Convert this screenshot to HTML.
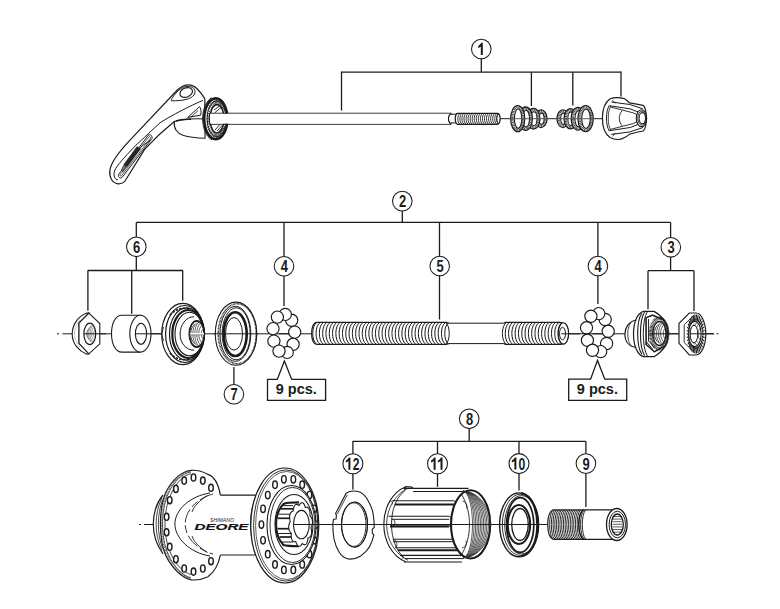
<!DOCTYPE html>
<html><head><meta charset="utf-8"><style>
html,body{margin:0;padding:0;background:#fff;width:780px;height:609px;overflow:hidden}
svg{display:block;font-family:"Liberation Sans",sans-serif}
</style></head><body>
<svg width="780" height="609" viewBox="0 0 780 609">
<rect width="780" height="609" fill="#fff"/>
<line x1="341.5" y1="72.2" x2="621" y2="72.2" stroke="#1b1b1b" stroke-width="1.3"/>
<line x1="481.3" y1="59" x2="481.3" y2="72.2" stroke="#1b1b1b" stroke-width="1.3"/>
<line x1="341.5" y1="71.6" x2="341.5" y2="110.6" stroke="#1b1b1b" stroke-width="1.3"/>
<line x1="531.4" y1="72.2" x2="531.4" y2="106" stroke="#1b1b1b" stroke-width="1.3"/>
<line x1="572.8" y1="72.2" x2="572.8" y2="105.5" stroke="#1b1b1b" stroke-width="1.3"/>
<line x1="621" y1="71.6" x2="621" y2="96.5" stroke="#1b1b1b" stroke-width="1.3"/>
<ellipse cx="481.3" cy="49" rx="9.8" ry="9.8" fill="#fff" stroke="#1b1b1b" stroke-width="1.05" />
<path d="M480.8,55 V46.4 C480,47.1 479,47.6 478.2,47.9 V45.9 C479.5,45.3 480.6,44.1 481.2,42.8 H482.8 V55 Z" fill="#1b1b1b"/>
<line x1="499" y1="118.7" x2="606" y2="118.7" stroke="#1b1b1b" stroke-width="1.0"/>
<path d="M204.8,98.7 C201,93 198,88 193,85.9 C189,84 183,85 177.3,90 L130,140.2 C118,153 111,163 109.9,170 C109,177 112,183 118,183.8 C121,184 123.5,183 125,181 L144.8,149.1 C155,138 165,129 174.3,121.5 L205,119 Z" fill="#fff" stroke="#1b1b1b" stroke-width="1.2" />
<path d="M203,100.3 C190,106 172,115 160,122.8 L134,147.1 C124,158 117,165 114.5,171 C113,176 115,179.5 118,180" fill="none" stroke="#1b1b1b" stroke-width="1.0" />
<path d="M171.4,99.5 C174,95 179,88 186,86.6 C193,85.5 197,90 194,95 C191,99 183,101 171.4,100.8 Z" fill="#fff" stroke="#1b1b1b" stroke-width="1.0" />
<ellipse cx="186.2" cy="92.5" rx="6.5" ry="4.6" fill="#fff" stroke="#1b1b1b" stroke-width="1.2" transform="rotate(-22 186.2 92.5)"/>
<path d="M148.2,135.4 C149.6,133.8 152.6,135.2 152,138.4 L122.4,177 C121,179 117.6,178 118.6,174.4 Z" fill="#fff" stroke="#1b1b1b" stroke-width="1.0" />
<path d="M148.8,137 C149.6,136 150.8,136.6 150.6,138.2 L121.6,175.6 C120.8,176.6 119.6,176 120,174.8 Z" fill="none" stroke="#1b1b1b" stroke-width="0.7" />
<path d="M139.5,147.8 L150.5,140" fill="none" stroke="#1b1b1b" stroke-width="0.9" />
<path d="M137,146.6 L140.6,148.8 L127.2,166.8 L123.8,164.6 Z" fill="#262626" stroke="#1b1b1b" stroke-width="0.5" />
<path d="M123.8,165 L126.8,167 L123.2,171.8 L121.2,170.2 Z" fill="#6a6a6a" stroke="#1b1b1b" stroke-width="0.5" />
<path d="M174.3,121.5 C173.5,128 177,133.5 183.5,135.5 C190,137.6 197,138 205,138.2 L205,119 C195,118.5 185,118.5 174.3,121.5 Z" fill="#fff" stroke="#1b1b1b" stroke-width="1.1" />
<path d="M176,121 C181,119.2 186,119 191,119.3" fill="none" stroke="#1b1b1b" stroke-width="1.6" />
<path d="M187.7,117.4 L199.5,106.7 C201,108 201.5,112 200.6,115.2 Z" fill="#fff" stroke="#1b1b1b" stroke-width="1.0" />
<path d="M190.5,117.5 L198,110.5" fill="none" stroke="#1b1b1b" stroke-width="0.8" />
<path d="M212,97.8 C206,100 202.6,110 202.6,118.6 C202.6,128 206,137 212,139.8" fill="none" stroke="#1b1b1b" stroke-width="0.9" />
<ellipse cx="215.8" cy="118.8" rx="11.6" ry="20.4" fill="#fff" stroke="#1b1b1b" stroke-width="2.6" />
<ellipse cx="216.6" cy="118.8" rx="9.5" ry="18" fill="none" stroke="#1b1b1b" stroke-width="1.0" />
<ellipse cx="217" cy="118.8" rx="7.1" ry="14.2" fill="none" stroke="#1b1b1b" stroke-width="1.6" />
<line x1="224.4" y1="118.8" x2="226.6" y2="118.8" stroke="#1b1b1b" stroke-width="0.8"/>
<line x1="224.31" y1="121.18" x2="226.47" y2="121.8" stroke="#1b1b1b" stroke-width="0.8"/>
<line x1="224.03" y1="123.5" x2="226.1" y2="124.73" stroke="#1b1b1b" stroke-width="0.8"/>
<line x1="223.57" y1="125.7" x2="225.49" y2="127.52" stroke="#1b1b1b" stroke-width="0.8"/>
<line x1="222.95" y1="127.73" x2="224.65" y2="130.09" stroke="#1b1b1b" stroke-width="0.8"/>
<line x1="222.17" y1="129.55" x2="223.61" y2="132.38" stroke="#1b1b1b" stroke-width="0.8"/>
<line x1="221.27" y1="131.1" x2="222.4" y2="134.33" stroke="#1b1b1b" stroke-width="0.8"/>
<line x1="220.25" y1="132.34" x2="221.03" y2="135.91" stroke="#1b1b1b" stroke-width="0.8"/>
<line x1="219.15" y1="133.26" x2="219.55" y2="137.06" stroke="#1b1b1b" stroke-width="0.8"/>
<line x1="217.99" y1="133.81" x2="218" y2="137.76" stroke="#1b1b1b" stroke-width="0.8"/>
<line x1="216.8" y1="134" x2="216.4" y2="138" stroke="#1b1b1b" stroke-width="0.8"/>
<line x1="215.61" y1="133.81" x2="214.8" y2="137.76" stroke="#1b1b1b" stroke-width="0.8"/>
<line x1="214.45" y1="133.26" x2="213.25" y2="137.06" stroke="#1b1b1b" stroke-width="0.8"/>
<line x1="213.35" y1="132.34" x2="211.77" y2="135.91" stroke="#1b1b1b" stroke-width="0.8"/>
<line x1="212.33" y1="131.1" x2="210.4" y2="134.33" stroke="#1b1b1b" stroke-width="0.8"/>
<line x1="211.43" y1="129.55" x2="209.19" y2="132.38" stroke="#1b1b1b" stroke-width="0.8"/>
<line x1="210.65" y1="127.73" x2="208.15" y2="130.09" stroke="#1b1b1b" stroke-width="0.8"/>
<line x1="210.03" y1="125.7" x2="207.31" y2="127.52" stroke="#1b1b1b" stroke-width="0.8"/>
<line x1="209.57" y1="123.5" x2="206.7" y2="124.73" stroke="#1b1b1b" stroke-width="0.8"/>
<line x1="209.29" y1="121.18" x2="206.33" y2="121.8" stroke="#1b1b1b" stroke-width="0.8"/>
<line x1="209.2" y1="118.8" x2="206.2" y2="118.8" stroke="#1b1b1b" stroke-width="0.8"/>
<line x1="209.29" y1="116.42" x2="206.33" y2="115.8" stroke="#1b1b1b" stroke-width="0.8"/>
<line x1="209.57" y1="114.1" x2="206.7" y2="112.87" stroke="#1b1b1b" stroke-width="0.8"/>
<line x1="210.03" y1="111.9" x2="207.31" y2="110.08" stroke="#1b1b1b" stroke-width="0.8"/>
<line x1="210.65" y1="109.87" x2="208.15" y2="107.51" stroke="#1b1b1b" stroke-width="0.8"/>
<line x1="211.43" y1="108.05" x2="209.19" y2="105.22" stroke="#1b1b1b" stroke-width="0.8"/>
<line x1="212.33" y1="106.5" x2="210.4" y2="103.27" stroke="#1b1b1b" stroke-width="0.8"/>
<line x1="213.35" y1="105.26" x2="211.77" y2="101.69" stroke="#1b1b1b" stroke-width="0.8"/>
<line x1="214.45" y1="104.34" x2="213.25" y2="100.54" stroke="#1b1b1b" stroke-width="0.8"/>
<line x1="215.61" y1="103.79" x2="214.8" y2="99.84" stroke="#1b1b1b" stroke-width="0.8"/>
<line x1="216.8" y1="103.6" x2="216.4" y2="99.6" stroke="#1b1b1b" stroke-width="0.8"/>
<line x1="217.99" y1="103.79" x2="218" y2="99.84" stroke="#1b1b1b" stroke-width="0.8"/>
<line x1="219.15" y1="104.34" x2="219.55" y2="100.54" stroke="#1b1b1b" stroke-width="0.8"/>
<line x1="220.25" y1="105.26" x2="221.03" y2="101.69" stroke="#1b1b1b" stroke-width="0.8"/>
<line x1="221.27" y1="106.5" x2="222.4" y2="103.27" stroke="#1b1b1b" stroke-width="0.8"/>
<line x1="222.17" y1="108.05" x2="223.61" y2="105.22" stroke="#1b1b1b" stroke-width="0.8"/>
<line x1="222.95" y1="109.87" x2="224.65" y2="107.51" stroke="#1b1b1b" stroke-width="0.8"/>
<line x1="223.57" y1="111.9" x2="225.49" y2="110.08" stroke="#1b1b1b" stroke-width="0.8"/>
<line x1="224.03" y1="114.1" x2="226.1" y2="112.87" stroke="#1b1b1b" stroke-width="0.8"/>
<line x1="224.31" y1="116.42" x2="226.47" y2="115.8" stroke="#1b1b1b" stroke-width="0.8"/>
<line x1="214" y1="110" x2="219" y2="106.5" stroke="#1b1b1b" stroke-width="0.9"/>
<line x1="214.5" y1="113" x2="221" y2="107.5" stroke="#1b1b1b" stroke-width="0.9"/>
<line x1="215" y1="130" x2="219.5" y2="125" stroke="#1b1b1b" stroke-width="0.9"/>
<line x1="217" y1="131" x2="222" y2="125.5" stroke="#1b1b1b" stroke-width="0.9"/>
<line x1="219" y1="131.5" x2="223" y2="127" stroke="#1b1b1b" stroke-width="0.9"/>
<path d="M209.6,113.2 H451 M209.6,124.2 H451" fill="none" stroke="#1b1b1b" stroke-width="1.15" />
<rect x="210" y="113.8" width="241" height="9.8" fill="#fff"/>
<path d="M209.6,113.2 Q208.8,118.7 209.6,124.2" fill="none" stroke="#1b1b1b" stroke-width="1.1" />
<path d="M451.5,113.4 C447.5,115 447.5,122.5 451.5,124.1" fill="none" stroke="#1b1b1b" stroke-width="1.2" />
<path d="M451,114.2 H457 M451,122.9 H457" fill="none" stroke="#1b1b1b" stroke-width="1.0" />
<path d="M457.5,113.3 H497.5 C501,114 501,123.6 497.5,124.4 H457.5 C454.5,123 454.5,114.5 457.5,113.3 Z" fill="#fff" stroke="#1b1b1b" stroke-width="1.25" />
<path d="M459.7,113.7 C457.2,115.5 457.2,122 459.7,124" fill="none" stroke="#1b1b1b" stroke-width="0.9" />
<path d="M461.75,113.7 C459.25,115.5 459.25,122 461.75,124" fill="none" stroke="#1b1b1b" stroke-width="0.9" />
<path d="M463.8,113.7 C461.3,115.5 461.3,122 463.8,124" fill="none" stroke="#1b1b1b" stroke-width="0.9" />
<path d="M465.85,113.7 C463.35,115.5 463.35,122 465.85,124" fill="none" stroke="#1b1b1b" stroke-width="0.9" />
<path d="M467.9,113.7 C465.4,115.5 465.4,122 467.9,124" fill="none" stroke="#1b1b1b" stroke-width="0.9" />
<path d="M469.95,113.7 C467.45,115.5 467.45,122 469.95,124" fill="none" stroke="#1b1b1b" stroke-width="0.9" />
<path d="M472,113.7 C469.5,115.5 469.5,122 472,124" fill="none" stroke="#1b1b1b" stroke-width="0.9" />
<path d="M474.05,113.7 C471.55,115.5 471.55,122 474.05,124" fill="none" stroke="#1b1b1b" stroke-width="0.9" />
<path d="M476.1,113.7 C473.6,115.5 473.6,122 476.1,124" fill="none" stroke="#1b1b1b" stroke-width="0.9" />
<path d="M478.15,113.7 C475.65,115.5 475.65,122 478.15,124" fill="none" stroke="#1b1b1b" stroke-width="0.9" />
<path d="M480.2,113.7 C477.7,115.5 477.7,122 480.2,124" fill="none" stroke="#1b1b1b" stroke-width="0.9" />
<path d="M482.25,113.7 C479.75,115.5 479.75,122 482.25,124" fill="none" stroke="#1b1b1b" stroke-width="0.9" />
<path d="M484.3,113.7 C481.8,115.5 481.8,122 484.3,124" fill="none" stroke="#1b1b1b" stroke-width="0.9" />
<path d="M486.35,113.7 C483.85,115.5 483.85,122 486.35,124" fill="none" stroke="#1b1b1b" stroke-width="0.9" />
<path d="M488.4,113.7 C485.9,115.5 485.9,122 488.4,124" fill="none" stroke="#1b1b1b" stroke-width="0.9" />
<path d="M490.45,113.7 C487.95,115.5 487.95,122 490.45,124" fill="none" stroke="#1b1b1b" stroke-width="0.9" />
<path d="M492.5,113.7 C490,115.5 490,122 492.5,124" fill="none" stroke="#1b1b1b" stroke-width="0.9" />
<path d="M494.55,113.7 C492.05,115.5 492.05,122 494.55,124" fill="none" stroke="#1b1b1b" stroke-width="0.9" />
<path d="M496.6,113.7 C494.1,115.5 494.1,122 496.6,124" fill="none" stroke="#1b1b1b" stroke-width="0.9" />
<path d="M498.65,113.7 C496.15,115.5 496.15,122 498.65,124" fill="none" stroke="#1b1b1b" stroke-width="0.9" />
<path d="M498.5,113.7 C496,115.5 496,122 498.5,124" fill="none" stroke="#1b1b1b" stroke-width="0.9" />
<ellipse cx="541" cy="118.7" rx="6" ry="8.9" fill="#fff" stroke="#1a1a1a" stroke-width="1.3" />
<ellipse cx="541" cy="118.7" rx="4.3" ry="7.2" fill="none" stroke="#4a4a4a" stroke-width="2.4" stroke-dasharray="1.0 0.6"/>
<ellipse cx="541.4" cy="118.7" rx="2.7" ry="5.6" fill="none" stroke="#1a1a1a" stroke-width="1.1" />
<ellipse cx="533.5" cy="118.7" rx="6.4" ry="10.3" fill="#fff" stroke="#1a1a1a" stroke-width="1.3" />
<ellipse cx="533.5" cy="118.7" rx="4.7" ry="8.6" fill="none" stroke="#4a4a4a" stroke-width="2.4" stroke-dasharray="1.0 0.6"/>
<ellipse cx="533.9" cy="118.7" rx="3.1" ry="7" fill="none" stroke="#1a1a1a" stroke-width="1.1" />
<ellipse cx="525.6" cy="118.7" rx="6.8" ry="11.7" fill="#fff" stroke="#1a1a1a" stroke-width="1.3" />
<ellipse cx="525.6" cy="118.7" rx="5.1" ry="10" fill="none" stroke="#4a4a4a" stroke-width="2.4" stroke-dasharray="1.0 0.6"/>
<ellipse cx="526" cy="118.7" rx="3.5" ry="8.4" fill="none" stroke="#1a1a1a" stroke-width="1.1" />
<ellipse cx="517.7" cy="118.7" rx="7" ry="13" fill="#fff" stroke="#1a1a1a" stroke-width="1.3" />
<ellipse cx="517.7" cy="118.7" rx="5.3" ry="11.3" fill="none" stroke="#4a4a4a" stroke-width="2.4" stroke-dasharray="1.0 0.6"/>
<ellipse cx="518.1" cy="118.7" rx="3.7" ry="9.7" fill="none" stroke="#1a1a1a" stroke-width="1.1" />
<ellipse cx="563" cy="118.7" rx="6" ry="8.9" fill="#fff" stroke="#1a1a1a" stroke-width="1.3" />
<ellipse cx="563" cy="118.7" rx="4.3" ry="7.2" fill="none" stroke="#4a4a4a" stroke-width="2.4" stroke-dasharray="1.0 0.6"/>
<ellipse cx="563.4" cy="118.7" rx="2.7" ry="5.6" fill="none" stroke="#1a1a1a" stroke-width="1.1" />
<ellipse cx="570.5" cy="118.7" rx="6.4" ry="10.1" fill="#fff" stroke="#1a1a1a" stroke-width="1.3" />
<ellipse cx="570.5" cy="118.7" rx="4.7" ry="8.4" fill="none" stroke="#4a4a4a" stroke-width="2.4" stroke-dasharray="1.0 0.6"/>
<ellipse cx="570.9" cy="118.7" rx="3.1" ry="6.8" fill="none" stroke="#1a1a1a" stroke-width="1.1" />
<ellipse cx="578" cy="118.7" rx="6.8" ry="11.4" fill="#fff" stroke="#1a1a1a" stroke-width="1.3" />
<ellipse cx="578" cy="118.7" rx="5.1" ry="9.7" fill="none" stroke="#4a4a4a" stroke-width="2.4" stroke-dasharray="1.0 0.6"/>
<ellipse cx="578.4" cy="118.7" rx="3.5" ry="8.1" fill="none" stroke="#1a1a1a" stroke-width="1.1" />
<ellipse cx="585.6" cy="118.7" rx="7.6" ry="13" fill="#fff" stroke="#1a1a1a" stroke-width="1.3" />
<ellipse cx="585.6" cy="118.7" rx="5.9" ry="11.3" fill="none" stroke="#4a4a4a" stroke-width="2.4" stroke-dasharray="1.0 0.6"/>
<ellipse cx="586" cy="118.7" rx="4.3" ry="9.7" fill="none" stroke="#1a1a1a" stroke-width="1.1" />
<line x1="510" y1="118.7" x2="548" y2="118.7" stroke="#555" stroke-width="1.0"/>
<line x1="556" y1="118.7" x2="594" y2="118.7" stroke="#555" stroke-width="1.0"/>
<path d="M618.9,97.6 C621,97.8 623,98.2 624.6,98.8 C626.5,99.8 628,101.5 629.4,102.9 C634,103.8 639,104.5 643.1,105.3 C644.5,106.5 645.3,108.3 645.5,110.1 C646.1,113 646.3,115.5 646.3,118.2 C646.3,121 646.1,123.5 645.5,126.2 C645.3,128 644.5,129.8 643.1,131 C639,131.8 634,132.8 629.4,134.3 C628,135.5 626.5,136.8 624.6,137.5 C622.8,138.5 621,139.3 618.9,139.5 C615.5,139.6 612.5,139 610.1,137.5 C605,134 602.4,126 602.4,118.2 C602.4,110 605,102.5 610.1,98.8 C612.5,97.8 615.5,97.4 618.9,97.6 Z" fill="#fff" stroke="#1b1b1b" stroke-width="1.2" />
<path d="M609.3,105.3 C607.2,109 606.5,113.5 606.5,118.2 C606.5,123 607.2,127.5 609.3,131" fill="none" stroke="#1b1b1b" stroke-width="1.0" />
<path d="M610.6,106.5 C608.8,110 608.3,114 608.3,118.2 C608.3,122.5 608.8,126.5 610.6,130" fill="none" stroke="#1b1b1b" stroke-width="0.8" />
<path d="M611.3,102 L629.8,104.5 L643.1,108.9" fill="none" stroke="#1b1b1b" stroke-width="1.0" />
<path d="M609.3,105.7 L630.2,108.9 L638.3,112.1" fill="none" stroke="#1b1b1b" stroke-width="1.0" />
<path d="M610.1,106.9 L633.4,112.9 L637.5,114.9" fill="none" stroke="#1b1b1b" stroke-width="0.9" />
<path d="M611.3,134.4 L629.8,131.9 L643.1,127.5" fill="none" stroke="#1b1b1b" stroke-width="1.0" />
<path d="M609.3,130.7 L630.2,127.5 L638.3,124.3" fill="none" stroke="#1b1b1b" stroke-width="1.0" />
<path d="M610.1,129.5 L633.4,123.5 L637.5,121.5" fill="none" stroke="#1b1b1b" stroke-width="0.9" />
<path d="M612.5,100.5 L615.5,103 M612.5,136 L615.5,133.4" fill="none" stroke="#1b1b1b" stroke-width="0.9" />
<path d="M622.2,110.5 C620,113 619.3,116 619.3,118.2 C619.3,120.5 620,123.5 622.2,125.8" fill="none" stroke="#1b1b1b" stroke-width="0.9" />
<ellipse cx="641.5" cy="118.2" rx="5.2" ry="8.45" fill="#fff" stroke="#1b1b1b" stroke-width="1.1" />
<ellipse cx="641.9" cy="118.2" rx="4.2" ry="7" fill="none" stroke="#1b1b1b" stroke-width="0.8" />
<ellipse cx="642.3" cy="118.2" rx="3.2" ry="5.6" fill="#fff" stroke="#1b1b1b" stroke-width="1.1" />
<line x1="62.5" y1="333.8" x2="714" y2="333.8" stroke="#1b1b1b" stroke-width="1.0"/>
<line x1="57" y1="333.8" x2="59" y2="333.8" stroke="#1b1b1b" stroke-width="1.0"/>
<line x1="716.5" y1="333.8" x2="718.5" y2="333.8" stroke="#1b1b1b" stroke-width="1.0"/>
<line x1="136.3" y1="222.4" x2="670.6" y2="222.4" stroke="#1b1b1b" stroke-width="1.3"/>
<line x1="402.3" y1="211" x2="402.3" y2="222.4" stroke="#1b1b1b" stroke-width="1.3"/>
<ellipse cx="402.3" cy="201.1" rx="9.8" ry="9.8" fill="#fff" stroke="#1b1b1b" stroke-width="1.05" />
<text transform="translate(402.6,207) scale(0.8,1)" text-anchor="middle" font-size="16.2" font-weight="bold" fill="#1b1b1b" >2</text>
<line x1="136.3" y1="222.4" x2="136.3" y2="270.5" stroke="#1b1b1b" stroke-width="1.3"/>
<line x1="87.7" y1="270.5" x2="183" y2="270.5" stroke="#1b1b1b" stroke-width="1.3"/>
<line x1="87.9" y1="270.5" x2="87.9" y2="310.8" stroke="#1b1b1b" stroke-width="1.3"/>
<line x1="131.7" y1="270.5" x2="131.7" y2="313.7" stroke="#1b1b1b" stroke-width="1.3"/>
<line x1="182.7" y1="270.5" x2="182.7" y2="300.8" stroke="#1b1b1b" stroke-width="1.3"/>
<ellipse cx="136.3" cy="246.8" rx="9.8" ry="9.8" fill="#fff" stroke="#1b1b1b" stroke-width="1.05" />
<text transform="translate(136.6,252.7) scale(0.8,1)" text-anchor="middle" font-size="16.2" font-weight="bold" fill="#1b1b1b" >6</text>
<line x1="284" y1="222.4" x2="284" y2="306" stroke="#1b1b1b" stroke-width="1.3"/>
<ellipse cx="284" cy="266.2" rx="9.8" ry="9.8" fill="#fff" stroke="#1b1b1b" stroke-width="1.05" />
<text transform="translate(284.3,272.1) scale(0.8,1)" text-anchor="middle" font-size="16.2" font-weight="bold" fill="#1b1b1b" >4</text>
<line x1="439.5" y1="222.4" x2="439.5" y2="319.5" stroke="#1b1b1b" stroke-width="1.3"/>
<ellipse cx="439.7" cy="266" rx="9.8" ry="9.8" fill="#fff" stroke="#1b1b1b" stroke-width="1.05" />
<text transform="translate(440,271.9) scale(0.8,1)" text-anchor="middle" font-size="16.2" font-weight="bold" fill="#1b1b1b" >5</text>
<line x1="597.9" y1="222.4" x2="597.9" y2="304.1" stroke="#1b1b1b" stroke-width="1.3"/>
<ellipse cx="597.9" cy="266" rx="9.8" ry="9.8" fill="#fff" stroke="#1b1b1b" stroke-width="1.05" />
<text transform="translate(598.2,271.9) scale(0.8,1)" text-anchor="middle" font-size="16.2" font-weight="bold" fill="#1b1b1b" >4</text>
<line x1="670.6" y1="222.4" x2="670.6" y2="270.7" stroke="#1b1b1b" stroke-width="1.3"/>
<line x1="648" y1="270.7" x2="694" y2="270.7" stroke="#1b1b1b" stroke-width="1.3"/>
<line x1="648" y1="270.7" x2="648" y2="309.3" stroke="#1b1b1b" stroke-width="1.3"/>
<line x1="694" y1="270.7" x2="694" y2="311" stroke="#1b1b1b" stroke-width="1.3"/>
<ellipse cx="670.8" cy="247.3" rx="9.8" ry="9.8" fill="#fff" stroke="#1b1b1b" stroke-width="1.05" />
<text transform="translate(671.1,253.2) scale(0.8,1)" text-anchor="middle" font-size="16.2" font-weight="bold" fill="#1b1b1b" >3</text>
<line x1="233.9" y1="367" x2="233.9" y2="385" stroke="#1b1b1b" stroke-width="1.3"/>
<ellipse cx="233.9" cy="394.2" rx="9.8" ry="9.8" fill="#fff" stroke="#1b1b1b" stroke-width="1.05" />
<text transform="translate(234.2,400.1) scale(0.8,1)" text-anchor="middle" font-size="16.2" font-weight="bold" fill="#1b1b1b" >7</text>
<path d="M86.7,313.1 C79,316 72.2,324 72.2,333.9 C72.2,344 79,351 86.7,354.2 L88.9,353.8 L79,343.4 L79,323.1 L88.9,313.1 Z" fill="#fff" stroke="#1b1b1b" stroke-width="1.1" />
<path d="M80,320 C76,325 74.5,330 74.5,334 C74.5,338 76,343 80,347" fill="none" stroke="#888" stroke-width="0.5" />
<path d="M88.9,313.1 L99.8,323.5 L99.8,343.8 L88.9,353.8 L79,343.4 L79,323.1 Z" fill="#fff" stroke="#1b1b1b" stroke-width="1.1" />
<ellipse cx="89.8" cy="333.9" rx="5.9" ry="10.8" fill="#fff" stroke="#1b1b1b" stroke-width="1.2" />
<path d="M88.95,328.81 C85.85,331.1 85.85,336.7 88.95,338.99" fill="none" stroke="#555" stroke-width="0.6" />
<path d="M91,325.92 C86.15,329.51 86.15,338.29 91,341.88" fill="none" stroke="#555" stroke-width="0.6" />
<path d="M92.6,324.81 C87.2,328.9 87.2,338.9 92.6,342.99" fill="none" stroke="#555" stroke-width="0.6" />
<path d="M94,324.81 C88.6,328.9 88.6,338.9 94,342.99" fill="none" stroke="#555" stroke-width="0.6" />
<path d="M95.2,325.92 C90.35,329.51 90.35,338.29 95.2,341.88" fill="none" stroke="#555" stroke-width="0.6" />
<path d="M95.95,328.81 C92.85,331.1 92.85,336.7 95.95,338.99" fill="none" stroke="#555" stroke-width="0.6" />
<line x1="84" y1="333.8" x2="106" y2="333.8" stroke="#1b1b1b" stroke-width="1.0"/>
<path d="M122,315.2 H140.4 V352.1 H122 C115,352.1 111.5,343 111.5,333.7 C111.5,324 115,315.2 122,315.2 Z" fill="#fff" stroke="none" stroke-width="0" />
<path d="M122,315.2 H140.4 M122,352.1 H140.4" fill="none" stroke="#1b1b1b" stroke-width="1.1" />
<path d="M122,315.2 C115,315.2 111.5,324 111.5,333.7 C111.5,343 115,352.1 122,352.1" fill="none" stroke="#1b1b1b" stroke-width="1.1" />
<ellipse cx="140.4" cy="333.7" rx="10.6" ry="18.4" fill="#fff" stroke="#1b1b1b" stroke-width="1.1" />
<ellipse cx="141" cy="333.7" rx="5.6" ry="10.5" fill="none" stroke="#1b1b1b" stroke-width="1.1" />
<line x1="135.4" y1="333.8" x2="161" y2="333.8" stroke="#1b1b1b" stroke-width="1.0"/>
<ellipse cx="182.85" cy="334" rx="21.15" ry="30.7" fill="#fff" stroke="#1b1b1b" stroke-width="1.2" />
<path d="M161.7,334 L163.5,327 M161.7,334 L163.5,341" fill="none" stroke="#1b1b1b" stroke-width="0.9" />
<ellipse cx="184.8" cy="334" rx="19.2" ry="28.5" fill="none" stroke="#1b1b1b" stroke-width="1.2" />
<ellipse cx="186.75" cy="334" rx="17.25" ry="26.2" fill="none" stroke="#1b1b1b" stroke-width="1.2" />
<ellipse cx="188.15" cy="334" rx="15.85" ry="24" fill="none" stroke="#1b1b1b" stroke-width="2.2" />
<ellipse cx="189.5" cy="334" rx="14.5" ry="21.8" fill="none" stroke="#1b1b1b" stroke-width="1.1" />
<path d="M170,315 C175,309 183,307 190,309 M170,353 C175,359 183,361 190,359" fill="none" stroke="#1b1b1b" stroke-width="1.6" stroke-dasharray="2.5 1.2"/>
<path d="M194,316.7 C186,316.7 180.1,325 180.1,334 C180.1,343 186,350.2 194,350.2" fill="#fff" stroke="#1b1b1b" stroke-width="1.0" />
<ellipse cx="196.8" cy="334" rx="7.5" ry="13.1" fill="#fff" stroke="#1b1b1b" stroke-width="1.7" />
<path d="M192.2,327.77 C188.42,330.57 188.42,337.43 192.2,340.23" fill="none" stroke="#333" stroke-width="0.75" />
<path d="M194.8,324.07 C189.4,328.54 189.4,339.46 194.8,343.93" fill="none" stroke="#333" stroke-width="0.75" />
<path d="M196.8,322.41 C191.4,327.62 191.4,340.38 196.8,345.59" fill="none" stroke="#333" stroke-width="0.75" />
<path d="M198.8,321.9 C193.4,327.35 193.4,340.65 198.8,346.1" fill="none" stroke="#333" stroke-width="0.75" />
<path d="M200.8,322.41 C195.4,327.62 195.4,340.38 200.8,345.59" fill="none" stroke="#333" stroke-width="0.75" />
<path d="M202.8,324.07 C197.4,328.54 197.4,339.46 202.8,343.93" fill="none" stroke="#333" stroke-width="0.75" />
<path d="M204.2,327.77 C200.42,330.57 200.42,337.43 204.2,340.23" fill="none" stroke="#333" stroke-width="0.75" />
<line x1="190" y1="333.8" x2="205" y2="333.8" stroke="#1b1b1b" stroke-width="1.0"/>
<rect x="190" y="333" width="14" height="1.5" fill="#fff"/>
<line x1="190" y1="335.1" x2="204" y2="335.1" stroke="#777" stroke-width="0.5"/>
<ellipse cx="236" cy="333.7" rx="20.7" ry="31.6" fill="#fff" stroke="#1b1b1b" stroke-width="1.1" />
<ellipse cx="237.3" cy="333.7" rx="19" ry="30" fill="none" stroke="#1b1b1b" stroke-width="1.6" stroke-dasharray="0.8 0.6"/>
<ellipse cx="235.4" cy="333.8" rx="15.4" ry="27.5" fill="none" stroke="#1b1b1b" stroke-width="1.0" />
<ellipse cx="236.2" cy="333.8" rx="14" ry="26" fill="none" stroke="#1b1b1b" stroke-width="1.0" />
<ellipse cx="235.2" cy="334.1" rx="11.5" ry="21.9" fill="none" stroke="#1b1b1b" stroke-width="2.6" />
<ellipse cx="234" cy="333.8" rx="8.5" ry="16.3" fill="none" stroke="#1b1b1b" stroke-width="1.0" />
<line x1="214" y1="333.8" x2="258" y2="333.8" stroke="#1b1b1b" stroke-width="1.0"/>
<ellipse cx="291.7" cy="320.3" rx="6.1" ry="6.1" fill="#fff" stroke="#1b1b1b" stroke-width="1.15" />
<ellipse cx="285.3" cy="314.4" rx="6.1" ry="6.1" fill="#fff" stroke="#1b1b1b" stroke-width="1.15" />
<ellipse cx="277.4" cy="317.1" rx="6.1" ry="6.1" fill="#fff" stroke="#1b1b1b" stroke-width="1.15" />
<ellipse cx="273" cy="328.6" rx="6.1" ry="6.1" fill="#fff" stroke="#1b1b1b" stroke-width="1.15" />
<ellipse cx="293.1" cy="344.3" rx="6.1" ry="6.1" fill="#fff" stroke="#1b1b1b" stroke-width="1.15" />
<line x1="279" y1="333.8" x2="301" y2="333.8" stroke="#1b1b1b" stroke-width="1.0"/>
<ellipse cx="294.7" cy="332.1" rx="6.1" ry="6.1" fill="#fff" stroke="#1b1b1b" stroke-width="1.15" />
<ellipse cx="287.2" cy="352.4" rx="6.1" ry="6.1" fill="#fff" stroke="#1b1b1b" stroke-width="1.15" />
<ellipse cx="273.9" cy="341.1" rx="6.1" ry="6.1" fill="#fff" stroke="#1b1b1b" stroke-width="1.15" />
<ellipse cx="279" cy="351.1" rx="6.1" ry="6.1" fill="#fff" stroke="#1b1b1b" stroke-width="1.15" />
<ellipse cx="605.2" cy="319.5" rx="6.1" ry="6.1" fill="#fff" stroke="#1b1b1b" stroke-width="1.15" />
<ellipse cx="598.8" cy="313.6" rx="6.1" ry="6.1" fill="#fff" stroke="#1b1b1b" stroke-width="1.15" />
<ellipse cx="590.9" cy="316.3" rx="6.1" ry="6.1" fill="#fff" stroke="#1b1b1b" stroke-width="1.15" />
<ellipse cx="586.5" cy="327.8" rx="6.1" ry="6.1" fill="#fff" stroke="#1b1b1b" stroke-width="1.15" />
<ellipse cx="606.6" cy="343.5" rx="6.1" ry="6.1" fill="#fff" stroke="#1b1b1b" stroke-width="1.15" />
<line x1="592.5" y1="333.8" x2="614.5" y2="333.8" stroke="#1b1b1b" stroke-width="1.0"/>
<ellipse cx="608.2" cy="331.3" rx="6.1" ry="6.1" fill="#fff" stroke="#1b1b1b" stroke-width="1.15" />
<ellipse cx="600.7" cy="351.6" rx="6.1" ry="6.1" fill="#fff" stroke="#1b1b1b" stroke-width="1.15" />
<ellipse cx="587.4" cy="340.3" rx="6.1" ry="6.1" fill="#fff" stroke="#1b1b1b" stroke-width="1.15" />
<ellipse cx="592.5" cy="350.3" rx="6.1" ry="6.1" fill="#fff" stroke="#1b1b1b" stroke-width="1.15" />
<path d="M267.5,379.4 H277.3 L284.4,361 L291.7,379.4 H325.6 V400.4 H267.5 Z" fill="#fff" stroke="#1b1b1b" stroke-width="1.3" />
<text x="296.25" y="394.1" text-anchor="middle" font-size="14.5" font-weight="bold" fill="#1b1b1b" >9 pcs.</text>
<path d="M568.7,379.2 H590.6 L597.5,360.4 L604.8,379.2 H626.7 V400.4 H568.7 Z" fill="#fff" stroke="#1b1b1b" stroke-width="1.3" />
<text x="597.4" y="394.1" text-anchor="middle" font-size="14.5" font-weight="bold" fill="#1b1b1b" >9 pcs.</text>
<path d="M316.5,322.4 H560 C566,322.4 568.6,328 568.6,333.4 C568.6,339 566,344.4 560,344.4 H316.5 C310,344 310,323 316.5,322.4 Z" fill="#fff" stroke="none"/>
<path d="M316.5,322.4 H447.5 M316.5,344.4 H447.5 M504.5,322.4 H560 M504.5,344.4 H560" fill="none" stroke="#1b1b1b" stroke-width="1.2" />
<path d="M447,323.2 H505 M447,343.6 H505" fill="none" stroke="#1b1b1b" stroke-width="1.0" />
<path d="M316.5,322.4 C310,323 310,344 316.5,344.4" fill="none" stroke="#1b1b1b" stroke-width="1.2" />
<path d="M316.8,322.6 C311.4,325.5 311.4,341.2 316.8,344.2" fill="none" stroke="#1b1b1b" stroke-width="1.0" />
<path d="M320.1,322.6 C314.7,325.5 314.7,341.2 320.1,344.2" fill="none" stroke="#1b1b1b" stroke-width="1.0" />
<path d="M323.4,322.6 C318,325.5 318,341.2 323.4,344.2" fill="none" stroke="#1b1b1b" stroke-width="1.0" />
<path d="M326.7,322.6 C321.3,325.5 321.3,341.2 326.7,344.2" fill="none" stroke="#1b1b1b" stroke-width="1.0" />
<path d="M330,322.6 C324.6,325.5 324.6,341.2 330,344.2" fill="none" stroke="#1b1b1b" stroke-width="1.0" />
<path d="M333.3,322.6 C327.9,325.5 327.9,341.2 333.3,344.2" fill="none" stroke="#1b1b1b" stroke-width="1.0" />
<path d="M336.6,322.6 C331.2,325.5 331.2,341.2 336.6,344.2" fill="none" stroke="#1b1b1b" stroke-width="1.0" />
<path d="M339.9,322.6 C334.5,325.5 334.5,341.2 339.9,344.2" fill="none" stroke="#1b1b1b" stroke-width="1.0" />
<path d="M343.2,322.6 C337.8,325.5 337.8,341.2 343.2,344.2" fill="none" stroke="#1b1b1b" stroke-width="1.0" />
<path d="M346.5,322.6 C341.1,325.5 341.1,341.2 346.5,344.2" fill="none" stroke="#1b1b1b" stroke-width="1.0" />
<path d="M349.8,322.6 C344.4,325.5 344.4,341.2 349.8,344.2" fill="none" stroke="#1b1b1b" stroke-width="1.0" />
<path d="M353.1,322.6 C347.7,325.5 347.7,341.2 353.1,344.2" fill="none" stroke="#1b1b1b" stroke-width="1.0" />
<path d="M356.4,322.6 C351,325.5 351,341.2 356.4,344.2" fill="none" stroke="#1b1b1b" stroke-width="1.0" />
<path d="M359.7,322.6 C354.3,325.5 354.3,341.2 359.7,344.2" fill="none" stroke="#1b1b1b" stroke-width="1.0" />
<path d="M363,322.6 C357.6,325.5 357.6,341.2 363,344.2" fill="none" stroke="#1b1b1b" stroke-width="1.0" />
<path d="M366.3,322.6 C360.9,325.5 360.9,341.2 366.3,344.2" fill="none" stroke="#1b1b1b" stroke-width="1.0" />
<path d="M369.6,322.6 C364.2,325.5 364.2,341.2 369.6,344.2" fill="none" stroke="#1b1b1b" stroke-width="1.0" />
<path d="M372.9,322.6 C367.5,325.5 367.5,341.2 372.9,344.2" fill="none" stroke="#1b1b1b" stroke-width="1.0" />
<path d="M376.2,322.6 C370.8,325.5 370.8,341.2 376.2,344.2" fill="none" stroke="#1b1b1b" stroke-width="1.0" />
<path d="M379.5,322.6 C374.1,325.5 374.1,341.2 379.5,344.2" fill="none" stroke="#1b1b1b" stroke-width="1.0" />
<path d="M382.8,322.6 C377.4,325.5 377.4,341.2 382.8,344.2" fill="none" stroke="#1b1b1b" stroke-width="1.0" />
<path d="M386.1,322.6 C380.7,325.5 380.7,341.2 386.1,344.2" fill="none" stroke="#1b1b1b" stroke-width="1.0" />
<path d="M389.4,322.6 C384,325.5 384,341.2 389.4,344.2" fill="none" stroke="#1b1b1b" stroke-width="1.0" />
<path d="M392.7,322.6 C387.3,325.5 387.3,341.2 392.7,344.2" fill="none" stroke="#1b1b1b" stroke-width="1.0" />
<path d="M396,322.6 C390.6,325.5 390.6,341.2 396,344.2" fill="none" stroke="#1b1b1b" stroke-width="1.0" />
<path d="M399.3,322.6 C393.9,325.5 393.9,341.2 399.3,344.2" fill="none" stroke="#1b1b1b" stroke-width="1.0" />
<path d="M402.6,322.6 C397.2,325.5 397.2,341.2 402.6,344.2" fill="none" stroke="#1b1b1b" stroke-width="1.0" />
<path d="M405.9,322.6 C400.5,325.5 400.5,341.2 405.9,344.2" fill="none" stroke="#1b1b1b" stroke-width="1.0" />
<path d="M409.2,322.6 C403.8,325.5 403.8,341.2 409.2,344.2" fill="none" stroke="#1b1b1b" stroke-width="1.0" />
<path d="M412.5,322.6 C407.1,325.5 407.1,341.2 412.5,344.2" fill="none" stroke="#1b1b1b" stroke-width="1.0" />
<path d="M415.8,322.6 C410.4,325.5 410.4,341.2 415.8,344.2" fill="none" stroke="#1b1b1b" stroke-width="1.0" />
<path d="M419.1,322.6 C413.7,325.5 413.7,341.2 419.1,344.2" fill="none" stroke="#1b1b1b" stroke-width="1.0" />
<path d="M422.4,322.6 C417,325.5 417,341.2 422.4,344.2" fill="none" stroke="#1b1b1b" stroke-width="1.0" />
<path d="M425.7,322.6 C420.3,325.5 420.3,341.2 425.7,344.2" fill="none" stroke="#1b1b1b" stroke-width="1.0" />
<path d="M429,322.6 C423.6,325.5 423.6,341.2 429,344.2" fill="none" stroke="#1b1b1b" stroke-width="1.0" />
<path d="M432.3,322.6 C426.9,325.5 426.9,341.2 432.3,344.2" fill="none" stroke="#1b1b1b" stroke-width="1.0" />
<path d="M435.6,322.6 C430.2,325.5 430.2,341.2 435.6,344.2" fill="none" stroke="#1b1b1b" stroke-width="1.0" />
<path d="M438.9,322.6 C433.5,325.5 433.5,341.2 438.9,344.2" fill="none" stroke="#1b1b1b" stroke-width="1.0" />
<path d="M442.2,322.6 C436.8,325.5 436.8,341.2 442.2,344.2" fill="none" stroke="#1b1b1b" stroke-width="1.0" />
<path d="M445.5,322.6 C440.1,325.5 440.1,341.2 445.5,344.2" fill="none" stroke="#1b1b1b" stroke-width="1.0" />
<path d="M448.8,322.6 C443.4,325.5 443.4,341.2 448.8,344.2" fill="none" stroke="#1b1b1b" stroke-width="1.0" />
<path d="M445.5,322.4 C450.5,326 450.5,341 445.5,344.4" fill="none" stroke="#1b1b1b" stroke-width="1.0" />
<path d="M509.3,322.6 C503.9,325.5 503.9,341.2 509.3,344.2" fill="none" stroke="#1b1b1b" stroke-width="1.0" />
<path d="M512.6,322.6 C507.2,325.5 507.2,341.2 512.6,344.2" fill="none" stroke="#1b1b1b" stroke-width="1.0" />
<path d="M515.9,322.6 C510.5,325.5 510.5,341.2 515.9,344.2" fill="none" stroke="#1b1b1b" stroke-width="1.0" />
<path d="M519.2,322.6 C513.8,325.5 513.8,341.2 519.2,344.2" fill="none" stroke="#1b1b1b" stroke-width="1.0" />
<path d="M522.5,322.6 C517.1,325.5 517.1,341.2 522.5,344.2" fill="none" stroke="#1b1b1b" stroke-width="1.0" />
<path d="M525.8,322.6 C520.4,325.5 520.4,341.2 525.8,344.2" fill="none" stroke="#1b1b1b" stroke-width="1.0" />
<path d="M529.1,322.6 C523.7,325.5 523.7,341.2 529.1,344.2" fill="none" stroke="#1b1b1b" stroke-width="1.0" />
<path d="M532.4,322.6 C527,325.5 527,341.2 532.4,344.2" fill="none" stroke="#1b1b1b" stroke-width="1.0" />
<path d="M535.7,322.6 C530.3,325.5 530.3,341.2 535.7,344.2" fill="none" stroke="#1b1b1b" stroke-width="1.0" />
<path d="M539,322.6 C533.6,325.5 533.6,341.2 539,344.2" fill="none" stroke="#1b1b1b" stroke-width="1.0" />
<path d="M542.3,322.6 C536.9,325.5 536.9,341.2 542.3,344.2" fill="none" stroke="#1b1b1b" stroke-width="1.0" />
<path d="M545.6,322.6 C540.2,325.5 540.2,341.2 545.6,344.2" fill="none" stroke="#1b1b1b" stroke-width="1.0" />
<path d="M548.9,322.6 C543.5,325.5 543.5,341.2 548.9,344.2" fill="none" stroke="#1b1b1b" stroke-width="1.0" />
<path d="M552.2,322.6 C546.8,325.5 546.8,341.2 552.2,344.2" fill="none" stroke="#1b1b1b" stroke-width="1.0" />
<path d="M555.5,322.6 C550.1,325.5 550.1,341.2 555.5,344.2" fill="none" stroke="#1b1b1b" stroke-width="1.0" />
<path d="M558.8,322.6 C553.4,325.5 553.4,341.2 558.8,344.2" fill="none" stroke="#1b1b1b" stroke-width="1.0" />
<path d="M562.1,322.6 C556.7,325.5 556.7,341.2 562.1,344.2" fill="none" stroke="#1b1b1b" stroke-width="1.0" />
<path d="M506.5,322.4 C501,326 501,341 506.5,344.4" fill="none" stroke="#1b1b1b" stroke-width="1.0" />
<path d="M558,322.4 C565.5,322.4 568.6,328 568.6,333.4 C568.6,339 565.5,344.4 558,344.4" fill="none" stroke="#1b1b1b" stroke-width="1.2" />
<ellipse cx="563.4" cy="333.4" rx="5.2" ry="10.65" fill="#fff" stroke="#1b1b1b" stroke-width="1.2" />
<ellipse cx="562.5" cy="333.6" rx="3" ry="6.25" fill="none" stroke="#1b1b1b" stroke-width="1.0" />
<line x1="561.3" y1="333.8" x2="580" y2="333.8" stroke="#1b1b1b" stroke-width="1.0"/>
<path d="M637,320 C628.5,321 624.9,328 624.9,334 C624.9,341 628.5,347 637,347.5 Z" fill="#fff" stroke="#1b1b1b" stroke-width="1.2" />
<path d="M631,322.5 C628.3,326 627.8,330 627.8,334 C627.8,338 628.3,342 631,345.5" fill="none" stroke="#1b1b1b" stroke-width="0.8" />
<path d="M643.6,311.4 L654,311.4 C659,314 663,318 666.3,323.7 C667.8,327 668.3,330 668.3,333.5 C668.3,337 667.8,340 666.3,344.4 C663,350 659,354 654,356.7 L643.6,356.7 C637,355 633.5,345 633.5,334 C633.5,323 637,313 643.6,311.4 Z" fill="#fff" stroke="#1b1b1b" stroke-width="1.2" />
<path d="M641.8,313.3 C636.3,321.5 636.3,346.1 641.8,354.3" fill="none" stroke="#1b1b1b" stroke-width="1.1" />
<path d="M644.6,312 C639.1,320.72 639.1,346.88 644.6,355.6" fill="none" stroke="#1b1b1b" stroke-width="1.1" />
<path d="M647.4,311.4 C641.9,320.36 641.9,347.24 647.4,356.2" fill="none" stroke="#1b1b1b" stroke-width="1.0" />
<path d="M646.1,317.8 L652.5,315.2 L663.3,319.7 L667.3,326.6 L667.3,341 L665.3,345.4 L654.5,351.8 L646.1,344.4 Z" fill="#fff" stroke="#1b1b1b" stroke-width="1.1" />
<path d="M648.6,319 L648.6,341.5" fill="none" stroke="#1b1b1b" stroke-width="1.0" />
<ellipse cx="659.2" cy="333.5" rx="8.4" ry="15.2" fill="none" stroke="#2e2e2e" stroke-width="3.6" stroke-dasharray="0.8 0.5"/>
<path d="M646.1,317.8 L652.5,315.2 L663.3,319.7 L667.3,326.6 L667.3,341 L665.3,345.4 L654.5,351.8 L646.1,344.4 Z" fill="none" stroke="#1b1b1b" stroke-width="1.1" />
<path d="M646.6,342 L652.5,349.3" fill="none" stroke="#1b1b1b" stroke-width="1.0" />
<path d="M649,341.2 L654.5,348" fill="none" stroke="#1b1b1b" stroke-width="0.9" />
<ellipse cx="659.4" cy="333.5" rx="6.6" ry="12" fill="#fff" stroke="#1b1b1b" stroke-width="1.4" />
<path d="M655.95,327.5 C652.31,330.2 652.31,336.8 655.95,339.5" fill="none" stroke="#333" stroke-width="0.8" />
<path d="M658.6,324.11 C653.2,328.33 653.2,338.67 658.6,342.89" fill="none" stroke="#333" stroke-width="0.8" />
<path d="M660.6,322.8 C655.2,327.62 655.2,339.38 660.6,344.2" fill="none" stroke="#333" stroke-width="0.8" />
<path d="M662.6,322.8 C657.2,327.62 657.2,339.38 662.6,344.2" fill="none" stroke="#333" stroke-width="0.8" />
<path d="M664.6,324.11 C659.2,328.33 659.2,338.67 664.6,342.89" fill="none" stroke="#333" stroke-width="0.8" />
<path d="M665.95,327.5 C662.31,330.2 662.31,336.8 665.95,339.5" fill="none" stroke="#333" stroke-width="0.8" />
<line x1="650" y1="333.8" x2="678" y2="333.8" stroke="#1b1b1b" stroke-width="1.0"/>
<path d="M679,323.3 L689.3,313 L696,313 A9.8,21 0 0 1 696,355 L689.3,355 L679,343.4 Z" fill="#fff" stroke="#1b1b1b" stroke-width="1.15" />
<path d="M694,315.3 L684.2,324.7 L684.2,342.5 L694,352.3" fill="none" stroke="#1b1b1b" stroke-width="0.9" />
<line x1="702" y1="334" x2="704.8" y2="334" stroke="#1b1b1b" stroke-width="1.1"/>
<line x1="701.88" y1="336.43" x2="704.65" y2="337.6" stroke="#1b1b1b" stroke-width="1.1"/>
<line x1="701.54" y1="338.77" x2="704.19" y2="341.08" stroke="#1b1b1b" stroke-width="1.1"/>
<line x1="700.98" y1="340.95" x2="703.45" y2="344.32" stroke="#1b1b1b" stroke-width="1.1"/>
<line x1="700.23" y1="342.89" x2="702.45" y2="347.2" stroke="#1b1b1b" stroke-width="1.1"/>
<line x1="699.3" y1="344.53" x2="701.22" y2="349.64" stroke="#1b1b1b" stroke-width="1.1"/>
<line x1="698.23" y1="345.82" x2="699.81" y2="351.55" stroke="#1b1b1b" stroke-width="1.1"/>
<line x1="697.06" y1="346.7" x2="698.26" y2="352.85" stroke="#1b1b1b" stroke-width="1.1"/>
<line x1="695.83" y1="347.14" x2="696.63" y2="353.52" stroke="#1b1b1b" stroke-width="1.1"/>
<line x1="694.57" y1="347.14" x2="694.97" y2="353.52" stroke="#1b1b1b" stroke-width="1.1"/>
<line x1="693.34" y1="346.7" x2="693.34" y2="352.85" stroke="#1b1b1b" stroke-width="1.1"/>
<line x1="692.17" y1="345.82" x2="691.79" y2="351.55" stroke="#1b1b1b" stroke-width="1.1"/>
<line x1="691.1" y1="344.53" x2="690.38" y2="349.64" stroke="#1b1b1b" stroke-width="1.1"/>
<line x1="690.17" y1="342.89" x2="689.15" y2="347.2" stroke="#1b1b1b" stroke-width="1.1"/>
<line x1="689.42" y1="340.95" x2="688.15" y2="344.32" stroke="#1b1b1b" stroke-width="1.1"/>
<line x1="688.86" y1="338.77" x2="687.41" y2="341.08" stroke="#1b1b1b" stroke-width="1.1"/>
<line x1="688.52" y1="336.43" x2="686.95" y2="337.6" stroke="#1b1b1b" stroke-width="1.1"/>
<line x1="688.4" y1="334" x2="686.8" y2="334" stroke="#1b1b1b" stroke-width="1.1"/>
<line x1="688.52" y1="331.57" x2="686.95" y2="330.4" stroke="#1b1b1b" stroke-width="1.1"/>
<line x1="688.86" y1="329.23" x2="687.41" y2="326.92" stroke="#1b1b1b" stroke-width="1.1"/>
<line x1="689.42" y1="327.05" x2="688.15" y2="323.68" stroke="#1b1b1b" stroke-width="1.1"/>
<line x1="690.17" y1="325.11" x2="689.15" y2="320.8" stroke="#1b1b1b" stroke-width="1.1"/>
<line x1="691.1" y1="323.47" x2="690.38" y2="318.36" stroke="#1b1b1b" stroke-width="1.1"/>
<line x1="692.17" y1="322.18" x2="691.79" y2="316.45" stroke="#1b1b1b" stroke-width="1.1"/>
<line x1="693.34" y1="321.3" x2="693.34" y2="315.15" stroke="#1b1b1b" stroke-width="1.1"/>
<line x1="694.57" y1="320.86" x2="694.97" y2="314.48" stroke="#1b1b1b" stroke-width="1.1"/>
<line x1="695.83" y1="320.86" x2="696.63" y2="314.48" stroke="#1b1b1b" stroke-width="1.1"/>
<line x1="697.06" y1="321.3" x2="698.26" y2="315.15" stroke="#1b1b1b" stroke-width="1.1"/>
<line x1="698.23" y1="322.18" x2="699.81" y2="316.45" stroke="#1b1b1b" stroke-width="1.1"/>
<line x1="699.3" y1="323.47" x2="701.22" y2="318.36" stroke="#1b1b1b" stroke-width="1.1"/>
<line x1="700.23" y1="325.11" x2="702.45" y2="320.8" stroke="#1b1b1b" stroke-width="1.1"/>
<line x1="700.98" y1="327.05" x2="703.45" y2="323.68" stroke="#1b1b1b" stroke-width="1.1"/>
<line x1="701.54" y1="329.23" x2="704.19" y2="326.92" stroke="#1b1b1b" stroke-width="1.1"/>
<line x1="701.88" y1="331.57" x2="704.65" y2="330.4" stroke="#1b1b1b" stroke-width="1.1"/>
<ellipse cx="695.6" cy="334" rx="7.4" ry="14.5" fill="none" stroke="#1b1b1b" stroke-width="0.8" />
<ellipse cx="694.8" cy="334" rx="6.3" ry="12.6" fill="#fff" stroke="#1b1b1b" stroke-width="1.1" />
<path d="M691.89,327.2 C687.76,330.26 687.76,337.74 691.89,340.8" fill="none" stroke="#333" stroke-width="0.7" />
<path d="M694.68,323.62 C689.28,328.29 689.28,339.71 694.68,344.38" fill="none" stroke="#333" stroke-width="0.7" />
<path d="M697,322.67 C691.6,327.77 691.6,340.23 697,345.33" fill="none" stroke="#333" stroke-width="0.7" />
<path d="M699.32,323.62 C693.92,328.29 693.92,339.71 699.32,344.38" fill="none" stroke="#333" stroke-width="0.7" />
<path d="M701.17,327.2 C697.04,330.26 697.04,337.74 701.17,340.8" fill="none" stroke="#333" stroke-width="0.7" />
<ellipse cx="694" cy="334" rx="3.8" ry="8.8" fill="#fff" stroke="#1b1b1b" stroke-width="1.0" />
<line x1="690" y1="333.8" x2="714" y2="333.8" stroke="#1b1b1b" stroke-width="1.0"/>
<line x1="139" y1="524.5" x2="141" y2="524.5" stroke="#1b1b1b" stroke-width="1.0"/>
<line x1="144" y1="524.5" x2="153" y2="524.5" stroke="#1b1b1b" stroke-width="1.0"/>
<line x1="301" y1="524.5" x2="548" y2="524.5" stroke="#1b1b1b" stroke-width="1.0"/>
<line x1="352.6" y1="441.3" x2="585.9" y2="441.3" stroke="#1b1b1b" stroke-width="1.3"/>
<line x1="469.2" y1="428" x2="469.2" y2="441.3" stroke="#1b1b1b" stroke-width="1.3"/>
<ellipse cx="469.2" cy="418.8" rx="9.8" ry="9.8" fill="#fff" stroke="#1b1b1b" stroke-width="1.05" />
<text transform="translate(469.5,424.7) scale(0.8,1)" text-anchor="middle" font-size="16.2" font-weight="bold" fill="#1b1b1b" >8</text>
<line x1="352.9" y1="441.3" x2="352.9" y2="489.4" stroke="#1b1b1b" stroke-width="1.3"/>
<ellipse cx="352.9" cy="463.7" rx="10" ry="10" fill="#fff" stroke="#1b1b1b" stroke-width="1.05" />
<path d="M348.4,469.7 V461.1 C347.6,461.8 346.6,462.3 345.8,462.6 V460.6 C347.1,460 348.2,458.8 348.8,457.5 H350.4 V469.7 Z" fill="#1b1b1b"/>
<text transform="translate(356.1,469.7) scale(0.74,1)" text-anchor="middle" font-size="16.4" font-weight="bold" fill="#1b1b1b" >2</text>
<line x1="437.5" y1="441.3" x2="437.5" y2="486.8" stroke="#1b1b1b" stroke-width="1.3"/>
<ellipse cx="437.5" cy="463.7" rx="10" ry="10" fill="#fff" stroke="#1b1b1b" stroke-width="1.05" />
<path d="M433.6,469.7 V461.1 C432.8,461.8 431.8,462.3 431,462.6 V460.6 C432.3,460 433.4,458.8 434,457.5 H435.6 V469.7 Z" fill="#1b1b1b"/>
<path d="M440.5,469.7 V461.1 C439.7,461.8 438.7,462.3 437.9,462.6 V460.6 C439.2,460 440.3,458.8 440.9,457.5 H442.5 V469.7 Z" fill="#1b1b1b"/>
<line x1="519" y1="441.3" x2="519" y2="490.4" stroke="#1b1b1b" stroke-width="1.3"/>
<ellipse cx="519" cy="463.6" rx="10" ry="10" fill="#fff" stroke="#1b1b1b" stroke-width="1.05" />
<path d="M514.4,469.6 V461 C513.6,461.7 512.6,462.2 511.8,462.5 V460.5 C513.1,459.9 514.2,458.7 514.8,457.4 H516.4 V469.6 Z" fill="#1b1b1b"/>
<text transform="translate(521.9,469.6) scale(0.74,1)" text-anchor="middle" font-size="16.4" font-weight="bold" fill="#1b1b1b" >0</text>
<line x1="585.9" y1="441.3" x2="585.9" y2="506.9" stroke="#1b1b1b" stroke-width="1.3"/>
<ellipse cx="585.9" cy="463.6" rx="9.8" ry="9.8" fill="#fff" stroke="#1b1b1b" stroke-width="1.05" />
<text transform="translate(586.2,469.5) scale(0.8,1)" text-anchor="middle" font-size="16.2" font-weight="bold" fill="#1b1b1b" >9</text>
<path d="M163,495 C156.5,503 153.3,513 153.3,524.3 C153.3,535 156.5,545 163,553.8" fill="#fff" stroke="#1b1b1b" stroke-width="1.2" />
<path d="M162,498 C158,506 156.2,515 156.2,524.3 C156.2,533 158,542 162,550.5" fill="none" stroke="#1b1b1b" stroke-width="0.8" />
<path d="M162.5,500 C159.8,507 158.4,515 158.4,524.3 C158.4,533 159.8,541 162.5,548.5" fill="none" stroke="#1b1b1b" stroke-width="0.8" />
<path d="M220.4,495.1 C218,482 213,476 208,474.4 C202,471 196,470 191.4,470.3 C182,471 172,480 166,492 C161,503 160.4,514 160.4,524 C160.4,534 161,545 166,556 C172,568 182,578 191.4,579.8 C197,580.5 203,579 208,576.7 C213,573 218,567 220.4,555 Z" fill="#fff" stroke="none" stroke-width="0" />
<path d="M220.4,495.1 C218,482 213,476 208,474.4 C202,471 196,470 191.4,470.3 C182,471 172,480 166,492 C161,503 160.4,514 160.4,524 C160.4,534 161,545 166,556 C172,568 182,578 191.4,579.8 C197,580.5 203,579 208,576.7 C213,573 218,567 220.4,555" fill="none" stroke="#1b1b1b" stroke-width="1.2" />
<path d="M191,472 C183,473 174,481 168.5,493 C164,503 162.6,514 162.6,524 C162.6,534 164,545 168.5,555 C174,567 183,576 191,578" fill="none" stroke="#1b1b1b" stroke-width="0.8" />
<path d="M191,473.8 C184,475 176,482.5 171,494 C166.5,504 165,514 165,524 C165,534 166.5,544 171,554 C176,565.5 184,573 191,574.5" fill="none" stroke="#1b1b1b" stroke-width="0.8" />
<path d="M190,471 C182,472 173,480.5 167.5,492.5 C162.5,503 161.5,514 161.5,524 C161.5,534 162.5,545 167.5,555.5 C173,567.5 182,576.5 190,577.5" fill="none" stroke="#444" stroke-width="1.6" stroke-dasharray="0.7 0.9"/>
<path d="M210,493 C190,496 174.9,510 174.9,524 C174.9,538 190,553 210,556" fill="none" stroke="#1b1b1b" stroke-width="1.0" />
<path d="M213,494 C198,498 185.2,510 185.2,524 C185.2,538 198,550 213,554" fill="none" stroke="#1b1b1b" stroke-width="0.9" stroke-dasharray="14 3 8 3"/>
<path d="M207.5,495.5 C200,500 194,506 192,512 M207.5,552.5 C200,548 194,542 192,536" fill="none" stroke="#1b1b1b" stroke-width="0.9" />
<ellipse cx="184.2" cy="480.6" rx="2.3" ry="3.6" fill="#fff" stroke="#1b1b1b" stroke-width="1.4" />
<ellipse cx="193.5" cy="477.5" rx="2.3" ry="3.6" fill="#fff" stroke="#1b1b1b" stroke-width="1.4" />
<ellipse cx="202.8" cy="480.6" rx="2.3" ry="3.6" fill="#fff" stroke="#1b1b1b" stroke-width="1.4" />
<ellipse cx="211" cy="487.8" rx="2.3" ry="3.6" fill="#fff" stroke="#1b1b1b" stroke-width="1.4" />
<ellipse cx="175.9" cy="488.9" rx="2.3" ry="3.6" fill="#fff" stroke="#1b1b1b" stroke-width="1.4" />
<ellipse cx="169.7" cy="500.2" rx="2.3" ry="3.6" fill="#fff" stroke="#1b1b1b" stroke-width="1.4" />
<ellipse cx="166.6" cy="516.8" rx="2.3" ry="3.6" fill="#fff" stroke="#1b1b1b" stroke-width="1.4" />
<ellipse cx="166.6" cy="532.3" rx="2.3" ry="3.6" fill="#fff" stroke="#1b1b1b" stroke-width="1.4" />
<ellipse cx="169.7" cy="546.8" rx="2.3" ry="3.6" fill="#fff" stroke="#1b1b1b" stroke-width="1.4" />
<ellipse cx="175.9" cy="559.2" rx="2.3" ry="3.6" fill="#fff" stroke="#1b1b1b" stroke-width="1.4" />
<ellipse cx="184.2" cy="568.5" rx="2.3" ry="3.6" fill="#fff" stroke="#1b1b1b" stroke-width="1.4" />
<ellipse cx="193.5" cy="571.6" rx="2.3" ry="3.6" fill="#fff" stroke="#1b1b1b" stroke-width="1.4" />
<ellipse cx="202.8" cy="568.5" rx="2.3" ry="3.6" fill="#fff" stroke="#1b1b1b" stroke-width="1.4" />
<ellipse cx="211" cy="561.2" rx="2.3" ry="3.6" fill="#fff" stroke="#1b1b1b" stroke-width="1.4" />
<path d="M220.4,495.1 H256 M220.4,555 H256" fill="none" stroke="#1b1b1b" stroke-width="1.1" />
<text x="210" y="521.6" font-size="4.6" font-style="italic" fill="#222" textLength="24" lengthAdjust="spacingAndGlyphs">SHIMANO</text>
<text x="194.5" y="530.3" font-size="8.6" font-weight="bold" font-style="italic" fill="#111" stroke="#111" stroke-width="0.15" textLength="54" lengthAdjust="spacingAndGlyphs">DEORE</text>
<path d="M256,497 C252,505 250.5,515 250.5,524 C250.5,533 252,543 256,552" fill="none" stroke="#1b1b1b" stroke-width="0.9" />
<ellipse cx="284.8" cy="525.5" rx="34" ry="57.5" fill="#fff" stroke="#1b1b1b" stroke-width="1.2" />
<ellipse cx="285.8" cy="525.5" rx="32.2" ry="55.6" fill="none" stroke="#1b1b1b" stroke-width="0.9" />
<ellipse cx="286.6" cy="525.5" rx="31" ry="54" fill="none" stroke="#1b1b1b" stroke-width="0.7" />
<ellipse cx="315.8" cy="524.6" rx="2.3" ry="3.7" fill="#fff" stroke="#1b1b1b" stroke-width="1.4" />
<ellipse cx="314.16" cy="540.33" rx="2.3" ry="3.7" fill="#fff" stroke="#1b1b1b" stroke-width="1.4" />
<ellipse cx="309.44" cy="554.17" rx="2.3" ry="3.7" fill="#fff" stroke="#1b1b1b" stroke-width="1.4" />
<ellipse cx="302.2" cy="564.44" rx="2.3" ry="3.7" fill="#fff" stroke="#1b1b1b" stroke-width="1.4" />
<ellipse cx="293.32" cy="569.9" rx="2.3" ry="3.7" fill="#fff" stroke="#1b1b1b" stroke-width="1.4" />
<ellipse cx="283.88" cy="569.9" rx="2.3" ry="3.7" fill="#fff" stroke="#1b1b1b" stroke-width="1.4" />
<ellipse cx="275" cy="564.44" rx="2.3" ry="3.7" fill="#fff" stroke="#1b1b1b" stroke-width="1.4" />
<ellipse cx="267.76" cy="554.17" rx="2.3" ry="3.7" fill="#fff" stroke="#1b1b1b" stroke-width="1.4" />
<ellipse cx="263.04" cy="540.33" rx="2.3" ry="3.7" fill="#fff" stroke="#1b1b1b" stroke-width="1.4" />
<ellipse cx="261.4" cy="524.6" rx="2.3" ry="3.7" fill="#fff" stroke="#1b1b1b" stroke-width="1.4" />
<ellipse cx="263.04" cy="508.87" rx="2.3" ry="3.7" fill="#fff" stroke="#1b1b1b" stroke-width="1.4" />
<ellipse cx="267.76" cy="495.03" rx="2.3" ry="3.7" fill="#fff" stroke="#1b1b1b" stroke-width="1.4" />
<ellipse cx="275" cy="484.76" rx="2.3" ry="3.7" fill="#fff" stroke="#1b1b1b" stroke-width="1.4" />
<ellipse cx="283.88" cy="479.3" rx="2.3" ry="3.7" fill="#fff" stroke="#1b1b1b" stroke-width="1.4" />
<ellipse cx="293.32" cy="479.3" rx="2.3" ry="3.7" fill="#fff" stroke="#1b1b1b" stroke-width="1.4" />
<ellipse cx="302.2" cy="484.76" rx="2.3" ry="3.7" fill="#fff" stroke="#1b1b1b" stroke-width="1.4" />
<ellipse cx="309.44" cy="495.03" rx="2.3" ry="3.7" fill="#fff" stroke="#1b1b1b" stroke-width="1.4" />
<ellipse cx="314.16" cy="508.87" rx="2.3" ry="3.7" fill="#fff" stroke="#1b1b1b" stroke-width="1.4" />
<ellipse cx="291.5" cy="525" rx="24.5" ry="39.5" fill="#fff" stroke="#1b1b1b" stroke-width="1.1" />
<ellipse cx="292.5" cy="525" rx="22.5" ry="37.5" fill="none" stroke="#1b1b1b" stroke-width="0.9" />
<ellipse cx="294" cy="524.5" rx="19" ry="30" fill="#fff" stroke="#1b1b1b" stroke-width="1.1" />
<path d="M299,502.4 C291,502.4 286,502.6 283.5,504 C278.5,509 276.1,516 276.1,524.3 C276.1,533 278.5,540 283.5,545 C286,546 291,546.2 299,546.2 Z" fill="#fff" stroke="none" stroke-width="0" />
<path d="M299,502.4 C291,502.4 286,502.6 283.5,504 C278.5,509 276.1,516 276.1,524.3 C276.1,533 278.5,540 283.5,545 C286,546 291,546.2 299,546.2" fill="none" stroke="#1b1b1b" stroke-width="2.1" />
<line x1="282" y1="505.6" x2="293" y2="505.6" stroke="#1b1b1b" stroke-width="1.0"/>
<line x1="280.5" y1="508.8" x2="293" y2="508.8" stroke="#1b1b1b" stroke-width="1.7"/>
<line x1="278.6" y1="514.2" x2="293" y2="514.2" stroke="#1b1b1b" stroke-width="1.0"/>
<line x1="277.8" y1="518.3" x2="293" y2="518.3" stroke="#1b1b1b" stroke-width="1.7"/>
<line x1="277.6" y1="528.7" x2="293" y2="528.7" stroke="#1b1b1b" stroke-width="1.7"/>
<line x1="278.3" y1="533.5" x2="293" y2="533.5" stroke="#1b1b1b" stroke-width="1.0"/>
<line x1="279.5" y1="537" x2="293" y2="537" stroke="#1b1b1b" stroke-width="1.7"/>
<line x1="281.8" y1="542" x2="293" y2="542" stroke="#1b1b1b" stroke-width="1.0"/>
<path d="M312.14,524.5 L311.95,525.15 L311.73,525.78 L311.47,526.38 L311.2,526.95 L310.91,527.49 L311.09,528.17 L311.26,528.87 L311.4,529.58 L311.51,530.31 L311.58,531.04 L311.61,531.77 L311.6,532.48 L311.54,533.18 L311.44,533.85 L311.29,534.49 L311.1,535.08 L310.86,535.63 L310.59,536.12 L310.28,536.56 L309.94,536.94 L309.57,537.26 L309.19,537.53 L308.79,537.74 L308.39,537.91 L307.98,538.03 L307.91,538.78 L307.82,539.52 L307.71,540.25 L307.56,540.95 L307.38,541.62 L307.18,542.24 L306.94,542.81 L306.67,543.32 L306.37,543.75 L306.05,544.1 L305.7,544.37 L305.34,544.56 L304.95,544.67 L304.56,544.69 L304.17,544.63 L303.77,544.49 L303.37,544.3 L302.98,544.04 L302.6,543.74 L302.23,543.4 L301.94,543.93 L301.63,544.43 L301.3,544.9 L300.96,545.31 L300.6,545.66 L300.23,545.94 L299.86,546.15 L299.48,546.26 L299.1,546.29 L298.72,546.23 L298.36,546.08 L298,545.83 L297.66,545.51 L297.34,545.1 L297.03,544.63 L296.75,544.09 L296.5,543.5 L296.26,542.88 L296.05,542.22 L295.86,541.55 L295.45,541.66 L295.04,541.74 L294.63,541.76 L294.22,541.72 L293.82,541.62 L293.43,541.45 L293.06,541.21 L292.71,540.9 L292.4,540.51 L292.11,540.06 L291.87,539.54 L291.66,538.96 L291.48,538.32 L291.35,537.65 L291.26,536.94 L291.21,536.2 L291.19,535.45 L291.2,534.69 L291.24,533.94 L291.3,533.19 L290.93,532.84 L290.58,532.45 L290.23,532.02 L289.91,531.55 L289.62,531.04 L289.36,530.49 L289.14,529.89 L288.96,529.27 L288.83,528.62 L288.75,527.94 L288.71,527.25 L288.73,526.56 L288.79,525.86 L288.9,525.17 L289.06,524.5 L289.25,523.85 L289.47,523.22 L289.73,522.62 L290,522.05 L290.29,521.51 L290.11,520.83 L289.94,520.13 L289.8,519.42 L289.69,518.69 L289.62,517.96 L289.59,517.23 L289.6,516.52 L289.66,515.82 L289.76,515.15 L289.91,514.51 L290.1,513.92 L290.34,513.37 L290.61,512.88 L290.92,512.44 L291.26,512.06 L291.63,511.74 L292.01,511.47 L292.41,511.26 L292.81,511.09 L293.22,510.97 L293.29,510.22 L293.38,509.48 L293.49,508.75 L293.64,508.05 L293.82,507.38 L294.02,506.76 L294.26,506.19 L294.53,505.68 L294.83,505.25 L295.15,504.9 L295.5,504.63 L295.86,504.44 L296.25,504.33 L296.64,504.31 L297.03,504.37 L297.43,504.51 L297.83,504.7 L298.22,504.96 L298.6,505.26 L298.97,505.6 L299.26,505.07 L299.57,504.57 L299.9,504.1 L300.24,503.69 L300.6,503.34 L300.97,503.06 L301.34,502.85 L301.72,502.74 L302.1,502.71 L302.48,502.77 L302.84,502.92 L303.2,503.17 L303.54,503.49 L303.86,503.9 L304.17,504.37 L304.45,504.91 L304.7,505.5 L304.94,506.12 L305.15,506.78 L305.34,507.45 L305.75,507.34 L306.16,507.26 L306.57,507.24 L306.98,507.28 L307.38,507.38 L307.77,507.55 L308.14,507.79 L308.49,508.1 L308.8,508.49 L309.09,508.94 L309.33,509.46 L309.54,510.04 L309.72,510.68 L309.85,511.35 L309.94,512.06 L309.99,512.8 L310.01,513.55 L310,514.31 L309.96,515.06 L309.9,515.81 L310.27,516.16 L310.62,516.55 L310.97,516.98 L311.29,517.45 L311.58,517.96 L311.84,518.51 L312.06,519.11 L312.24,519.73 L312.37,520.38 L312.45,521.06 L312.49,521.75 L312.47,522.44 L312.41,523.14 L312.3,523.83 L312.14,524.5 Z" fill="#fff" stroke="#1b1b1b" stroke-width="1.1" />
<ellipse cx="301.4" cy="524.6" rx="7.9" ry="14.2" fill="#fff" stroke="#1b1b1b" stroke-width="1.1" />
<line x1="294" y1="524.5" x2="342" y2="524.5" stroke="#1b1b1b" stroke-width="1.0"/>
<path d="M335.6,513.5 L346.3,493 C349,491.6 351,491 352.9,491 C355.5,491 358,491.3 360.3,492.2 C364,494 367,498 369.3,502.9 C371.5,507 373,511 373.4,516 C374,520 374.3,524 374.2,527.5 L372.3,529.2 L372.3,533.3 L373.9,534.9 C373,539 371.5,543 369.3,547.2 L366,551.3 L360.3,556.3 C357,558.3 353.5,559.1 350.4,559.1 C346,559 342.5,557 339.7,553 C337,549 335,544 334,539 C333.2,534 332.8,529 332.8,524.2 L333.5,519.3 L336.1,519 L336.4,515.2 Z" fill="#fff" stroke="#1b1b1b" stroke-width="1.1" />
<path d="M337.3,514 L347.3,494.8" fill="none" stroke="#1b1b1b" stroke-width="0.8" />
<ellipse cx="354.5" cy="524.6" rx="13" ry="22.6" fill="#fff" stroke="#1b1b1b" stroke-width="1.1" />
<path d="M354.5,502 C362,502.5 367.5,512 367.5,524.6 C367.5,537 362,546.7 354.5,547.2" fill="none" stroke="#1b1b1b" stroke-width="0.8" />
<ellipse cx="353.8" cy="524.6" rx="12.2" ry="21.8" fill="none" stroke="#1b1b1b" stroke-width="0.9" />
<line x1="333" y1="524.5" x2="375" y2="524.5" stroke="#1b1b1b" stroke-width="1.0"/>
<path d="M404.6,486.9 H470 V562 H404 C392,556 383.8,541 383.8,524.3 C383.8,508 392,492 404.6,486.9 Z" fill="#fff" stroke="none" stroke-width="0" />
<path d="M406,486.7 C392,492 383.8,508 383.8,524.3 C383.8,541 392,556 406,562" fill="none" stroke="#1b1b1b" stroke-width="1.1" />
<path d="M408,488.3 C395,494 386.6,509 386.6,524.3 C386.6,540 395,554 408,560.3" fill="none" stroke="#1b1b1b" stroke-width="0.8" />
<path d="M404,491.5 C396,498 391.5,510 391.5,524.3 C391.5,538 396,551 404,557.5" fill="none" stroke="#1b1b1b" stroke-width="0.9" />
<path d="M404.6,486.9 H411 L413.5,488.5" fill="none" stroke="#1b1b1b" stroke-width="1.1" />
<line x1="403.8" y1="488.3" x2="468.5" y2="488.3" stroke="#1b1b1b" stroke-width="1.2"/>
<line x1="413" y1="491.5" x2="468.5" y2="491.5" stroke="#1b1b1b" stroke-width="1.1"/>
<line x1="392.3" y1="500.8" x2="453.8" y2="500.8" stroke="#1b1b1b" stroke-width="1.1"/>
<line x1="395" y1="504.6" x2="453.8" y2="504.6" stroke="#1b1b1b" stroke-width="2.0"/>
<line x1="388.5" y1="516.2" x2="449.2" y2="516.2" stroke="#1b1b1b" stroke-width="1.1"/>
<line x1="392" y1="519.3" x2="449.2" y2="519.3" stroke="#1b1b1b" stroke-width="1.0"/>
<line x1="390" y1="526.4" x2="449.2" y2="526.4" stroke="#1b1b1b" stroke-width="2.1"/>
<line x1="393" y1="539.2" x2="470" y2="539.2" stroke="#1b1b1b" stroke-width="1.1"/>
<line x1="393" y1="541.7" x2="470" y2="541.7" stroke="#1b1b1b" stroke-width="1.0"/>
<line x1="395" y1="547.7" x2="462" y2="547.7" stroke="#1b1b1b" stroke-width="1.1"/>
<line x1="398" y1="550.3" x2="462" y2="550.3" stroke="#1b1b1b" stroke-width="1.9"/>
<line x1="400" y1="555.4" x2="463" y2="555.4" stroke="#1b1b1b" stroke-width="1.1"/>
<line x1="405" y1="558.6" x2="463" y2="558.6" stroke="#1b1b1b" stroke-width="1.0"/>
<line x1="404" y1="562" x2="462" y2="562" stroke="#1b1b1b" stroke-width="1.2"/>
<path d="M453.8,500.8 C456,501.5 456,504 453.8,504.6" fill="none" stroke="#1b1b1b" stroke-width="0.9" />
<path d="M449.2,516.2 C452,518 452,524.5 449.2,526.4" fill="none" stroke="#1b1b1b" stroke-width="1.0" />
<path d="M392.5,519.3 C395.5,520 396,525 392.5,526.4" fill="none" stroke="#1b1b1b" stroke-width="0.9" />
<path d="M390.5,500.8 C392.5,501.5 393,503.5 392,504.6" fill="none" stroke="#1b1b1b" stroke-width="0.8" />
<path d="M394,539.2 C397,541 398,546 395.5,547.7" fill="none" stroke="#1b1b1b" stroke-width="0.8" />
<path d="M400.5,555.4 C403,556 404,558 402.5,558.6" fill="none" stroke="#1b1b1b" stroke-width="0.8" />
<path d="M403.5,488.5 C405,489.5 405,491 404,491.5" fill="none" stroke="#1b1b1b" stroke-width="0.8" />
<line x1="383" y1="524.5" x2="452" y2="524.5" stroke="#1b1b1b" stroke-width="1.0"/>
<ellipse cx="470.6" cy="524.4" rx="19.6" ry="34.1" fill="#fff" stroke="#1b1b1b" stroke-width="2.1" />
<path d="M463,491.2 A9.5,33.3 0 0 1 463,557.8" fill="none" stroke="#303030" stroke-width="0.8" />
<path d="M463,491.2 A11.1,33.3 0 0 1 463,557.8" fill="none" stroke="#303030" stroke-width="0.8" />
<path d="M463,491.2 A12.7,33.3 0 0 1 463,557.8" fill="none" stroke="#303030" stroke-width="0.8" />
<path d="M463,491.2 A14.3,33.3 0 0 1 463,557.8" fill="none" stroke="#303030" stroke-width="0.8" />
<path d="M463,491.2 A15.9,33.3 0 0 1 463,557.8" fill="none" stroke="#303030" stroke-width="0.8" />
<path d="M463,491.2 A17.5,33.3 0 0 1 463,557.8" fill="none" stroke="#303030" stroke-width="0.8" />
<path d="M463,491.2 A19.1,33.3 0 0 1 463,557.8" fill="none" stroke="#303030" stroke-width="0.8" />
<path d="M463,491.2 A20.7,33.3 0 0 1 463,557.8" fill="none" stroke="#303030" stroke-width="0.8" />
<path d="M463,491.2 A22.3,33.3 0 0 1 463,557.8" fill="none" stroke="#303030" stroke-width="0.8" />
<path d="M463,491.2 A23.9,33.3 0 0 1 463,557.8" fill="none" stroke="#303030" stroke-width="0.8" />
<path d="M463,491.2 A25.5,33.3 0 0 1 463,557.8" fill="none" stroke="#303030" stroke-width="0.8" />
<path d="M463,491.2 A27.1,33.3 0 0 1 463,557.8" fill="none" stroke="#303030" stroke-width="0.8" />
<path d="M461,493.5 C467,503 469.5,514 469.5,524.4 C469.5,535 467,546 461,555.5" fill="none" stroke="#1b1b1b" stroke-width="0.9" />
<path d="M462.5,501 C466.5,502.5 467.5,505 466.5,508.5 M462,548 C466,546.5 467,544 466,540.5" fill="none" stroke="#1b1b1b" stroke-width="0.8" />
<line x1="452" y1="524.5" x2="490" y2="524.5" stroke="#1b1b1b" stroke-width="1.0"/>
<ellipse cx="519.1" cy="524.8" rx="19.5" ry="31.9" fill="#fff" stroke="#1b1b1b" stroke-width="1.4" />
<ellipse cx="520.3" cy="524.8" rx="18" ry="30.6" fill="none" stroke="#1b1b1b" stroke-width="0.9" />
<ellipse cx="521.5" cy="524.8" rx="16.8" ry="29.2" fill="none" stroke="#1b1b1b" stroke-width="0.9" />
<path d="M521,493.2 C532,495 537.3,510 537.3,524.8 C537.3,540 532,554.5 521,556.4" fill="none" stroke="#1b1b1b" stroke-width="2.2" />
<ellipse cx="520.2" cy="525" rx="13.6" ry="27.3" fill="none" stroke="#1b1b1b" stroke-width="1.7" />
<ellipse cx="518.9" cy="524.5" rx="11.2" ry="19.5" fill="#fff" stroke="#1b1b1b" stroke-width="2.1" />
<ellipse cx="520" cy="524.5" rx="8.3" ry="16" fill="none" stroke="#1b1b1b" stroke-width="1.3" />
<line x1="499" y1="524.5" x2="539" y2="524.5" stroke="#1b1b1b" stroke-width="1.0"/>
<rect x="552" y="510" width="65" height="29.4" fill="#fff"/>
<line x1="553" y1="509.8" x2="616.8" y2="509.8" stroke="#1b1b1b" stroke-width="1.2"/>
<line x1="553" y1="539.3" x2="616.8" y2="539.3" stroke="#1b1b1b" stroke-width="1.2"/>
<path d="M553,509.8 C546,513 546,536 553,539.3" fill="none" stroke="#1b1b1b" stroke-width="1.2" />
<path d="M553,510 C548.5,514 548.5,535 553,539" fill="none" stroke="#1b1b1b" stroke-width="0.95" />
<path d="M554.72,510 C550.22,514 550.22,535 554.72,539" fill="none" stroke="#1b1b1b" stroke-width="0.95" />
<path d="M556.44,510 C551.94,514 551.94,535 556.44,539" fill="none" stroke="#1b1b1b" stroke-width="0.95" />
<path d="M558.16,510 C553.66,514 553.66,535 558.16,539" fill="none" stroke="#1b1b1b" stroke-width="0.95" />
<path d="M559.88,510 C555.38,514 555.38,535 559.88,539" fill="none" stroke="#1b1b1b" stroke-width="0.95" />
<path d="M561.6,510 C557.1,514 557.1,535 561.6,539" fill="none" stroke="#1b1b1b" stroke-width="0.95" />
<path d="M563.32,510 C558.82,514 558.82,535 563.32,539" fill="none" stroke="#1b1b1b" stroke-width="0.95" />
<path d="M565.04,510 C560.54,514 560.54,535 565.04,539" fill="none" stroke="#1b1b1b" stroke-width="0.95" />
<path d="M566.76,510 C562.26,514 562.26,535 566.76,539" fill="none" stroke="#1b1b1b" stroke-width="0.95" />
<path d="M568.48,510 C563.98,514 563.98,535 568.48,539" fill="none" stroke="#1b1b1b" stroke-width="0.95" />
<path d="M570.2,510 C565.7,514 565.7,535 570.2,539" fill="none" stroke="#1b1b1b" stroke-width="0.95" />
<path d="M571.92,510 C567.42,514 567.42,535 571.92,539" fill="none" stroke="#1b1b1b" stroke-width="0.95" />
<path d="M573.64,510 C569.14,514 569.14,535 573.64,539" fill="none" stroke="#1b1b1b" stroke-width="0.95" />
<path d="M575.36,510 C570.86,514 570.86,535 575.36,539" fill="none" stroke="#1b1b1b" stroke-width="0.95" />
<path d="M577.08,510 C572.58,514 572.58,535 577.08,539" fill="none" stroke="#1b1b1b" stroke-width="0.95" />
<path d="M578.8,510 C574.3,514 574.3,535 578.8,539" fill="none" stroke="#1b1b1b" stroke-width="0.95" />
<path d="M580.52,510 C576.02,514 576.02,535 580.52,539" fill="none" stroke="#1b1b1b" stroke-width="0.95" />
<path d="M582.24,510 C577.74,514 577.74,535 582.24,539" fill="none" stroke="#1b1b1b" stroke-width="0.95" />
<path d="M583.96,510 C579.46,514 579.46,535 583.96,539" fill="none" stroke="#1b1b1b" stroke-width="0.95" />
<path d="M585.68,510 C581.18,514 581.18,535 585.68,539" fill="none" stroke="#1b1b1b" stroke-width="0.95" />
<path d="M584,509.8 C577,514 577,535 584,539.3" fill="none" stroke="#1b1b1b" stroke-width="1.3" />
<ellipse cx="616.8" cy="524.5" rx="10.3" ry="16" fill="#fff" stroke="#1b1b1b" stroke-width="1.3" />
<ellipse cx="617.3" cy="524.5" rx="8.2" ry="13.3" fill="none" stroke="#1b1b1b" stroke-width="1.0" />
<ellipse cx="617.3" cy="524.5" rx="6" ry="10.5" fill="#fff" stroke="#1b1b1b" stroke-width="1.3" />
<line x1="612.5" y1="516.5" x2="622" y2="516.5" stroke="#1b1b1b" stroke-width="0.7"/>
<line x1="612.5" y1="519.1" x2="622" y2="519.1" stroke="#1b1b1b" stroke-width="0.7"/>
<line x1="612.5" y1="521.7" x2="622" y2="521.7" stroke="#1b1b1b" stroke-width="0.7"/>
<line x1="612.5" y1="524.3" x2="622" y2="524.3" stroke="#1b1b1b" stroke-width="0.7"/>
<line x1="612.5" y1="526.9" x2="622" y2="526.9" stroke="#1b1b1b" stroke-width="0.7"/>
<line x1="612.5" y1="529.5" x2="622" y2="529.5" stroke="#1b1b1b" stroke-width="0.7"/>
<line x1="612.5" y1="532.1" x2="622" y2="532.1" stroke="#1b1b1b" stroke-width="0.7"/>
</svg></body></html>
